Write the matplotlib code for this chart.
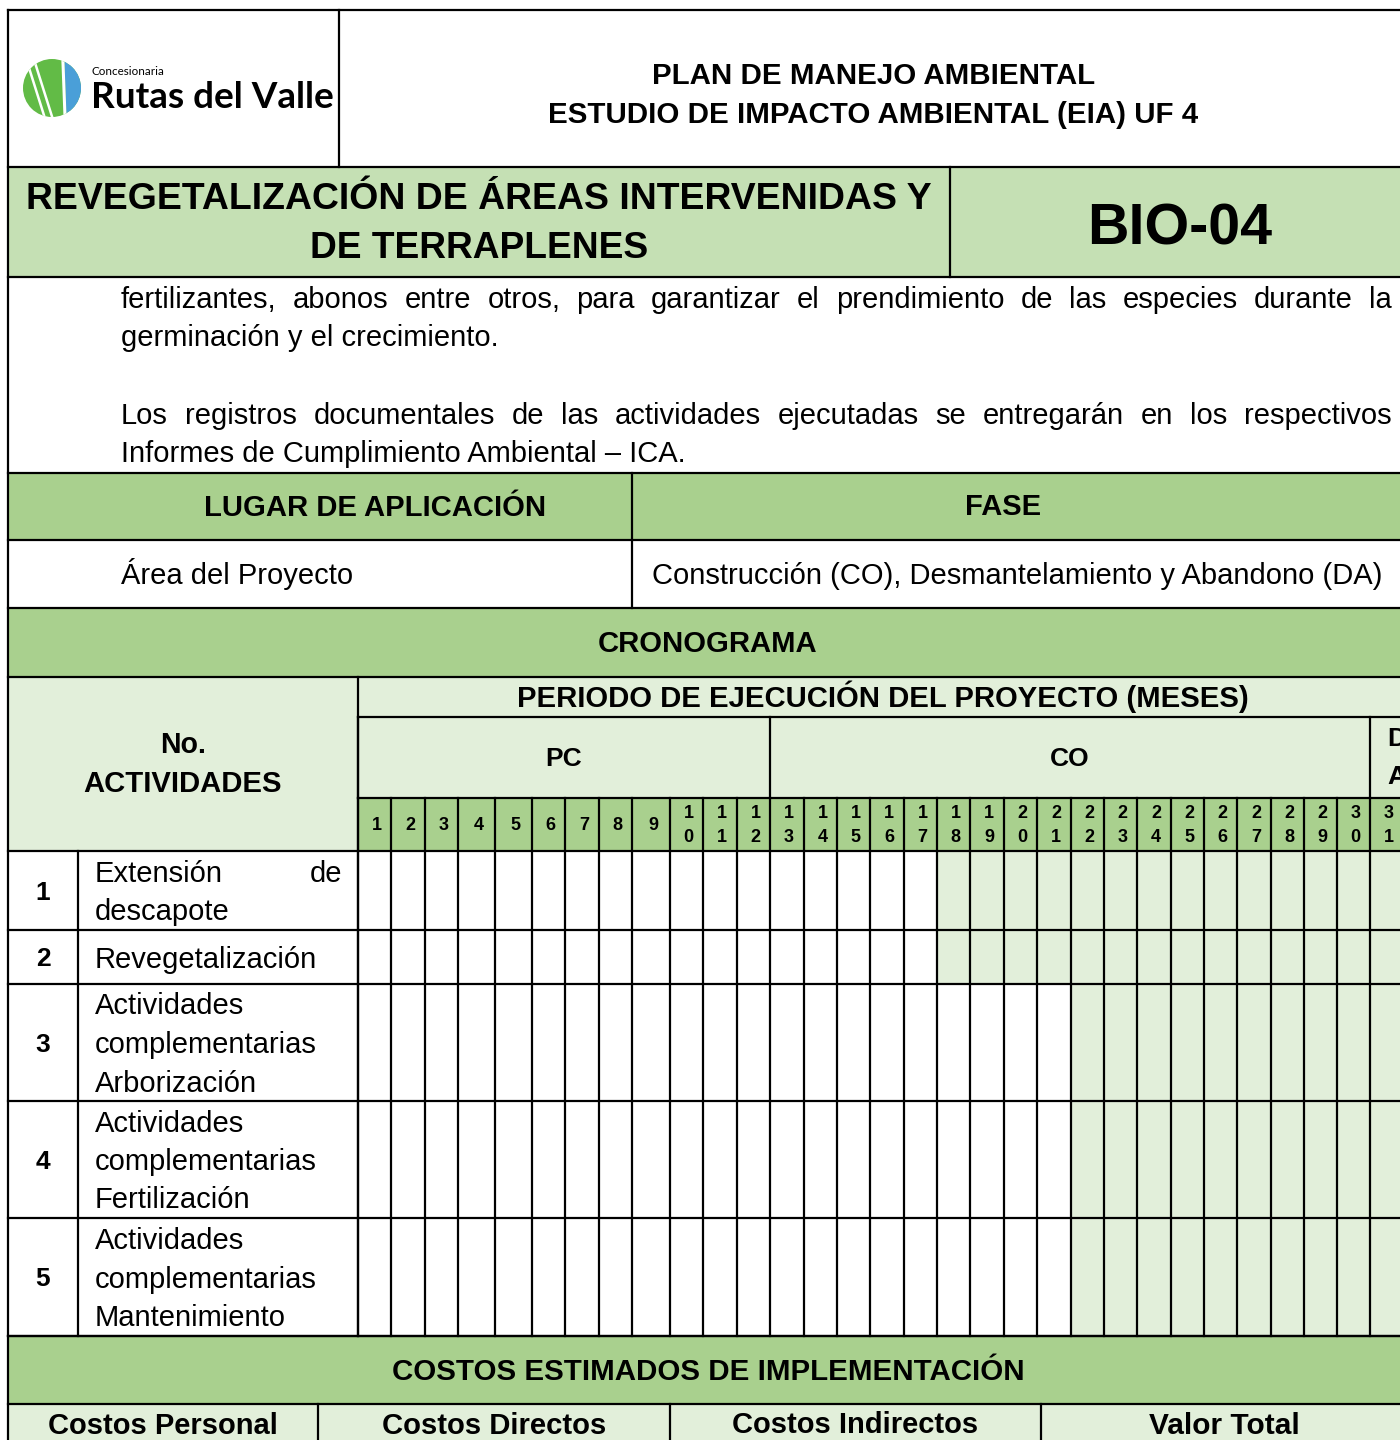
import matplotlib
matplotlib.use("Agg")
import matplotlib.pyplot as plt
from matplotlib.patches import Rectangle, Circle, Polygon

# ---------------- data ----------------
header_lines = ["PLAN DE MANEJO AMBIENTAL", "ESTUDIO DE IMPACTO AMBIENTAL (EIA) UF 4"]
title_lines = ["REVEGETALIZACIÓN DE ÁREAS INTERVENIDAS Y", "DE TERRAPLENES"]
sheet_code = "BIO-04"
body_lines = [
    ("fertilizantes, abonos entre otros, para garantizar el prendimiento de las especies durante la", True),
    ("germinación y el crecimiento.", False),
    ("Los registros documentales de las actividades ejecutadas se entregarán en los respectivos", True),
    ("Informes de Cumplimiento Ambiental – ICA.", False),
]
lugar_header = "LUGAR DE APLICACIÓN"
fase_header = "FASE"
lugar_value = "Área del Proyecto"
fase_value = "Construcción (CO), Desmantelamiento y Abandono (DA)"
crono_title = "CRONOGRAMA"
periodo_title = "PERIODO DE EJECUCIÓN DEL PROYECTO (MESES)"
months = list(range(1, 32))
phases = ["PC", "CO", "DA"]
phase_first_month = [1, 13, 31]
activity_no = [1, 2, 3, 4, 5]
activities = [
    ["Extensión de", "descapote"],
    ["Revegetalización"],
    ["Actividades", "complementarias", "Arborización"],
    ["Actividades", "complementarias", "Fertilización"],
    ["Actividades", "complementarias", "Mantenimiento"],
]
shade_from_month = [18, 18, 22, 22, 22]
costs_title = "COSTOS ESTIMADOS DE IMPLEMENTACIÓN"
cost_headers = ["Costos Personal", "Costos Directos", "Costos Indirectos", "Valor Total"]

# ---------------- layout ----------------
W, H = 1400, 1440
DARK = "#A9D08E"
LIGHT = "#E2EFDA"
TITLEC = "#C5E0B4"
LW = 1.6
FONT = "Liberation Sans"

fig = plt.figure(figsize=(W / 100, H / 100), dpi=100)
ax = fig.add_axes([0, 0, 1, 1])
ax.set_xlim(0, W)
ax.set_ylim(H, 0)
ax.axis("off")
R = fig.canvas.get_renderer()

L, RGT = 8, 1402
col_edges = [358, 391, 425, 458, 495, 532, 565, 599, 632, 670, 703, 737, 770, 804,
             837, 870, 904, 937, 970, 1004, 1037, 1071, 1104, 1137, 1171, 1204, 1237,
             1271, 1304, 1337, 1370, 1404]
row_edges = [851, 930, 984, 1101, 1218, 1336]


def rect(x0, y0, x1, y1, c):
    ax.add_patch(Rectangle((x0, y0), x1 - x0, y1 - y0, facecolor=c, edgecolor="none", zorder=1))


def hline(y, x0, x1):
    ax.plot([x0, x1], [y, y], color="black", lw=LW, solid_capstyle="projecting", zorder=3)


def vline(x, y0, y1):
    ax.plot([x, x], [y0, y1], color="black", lw=LW, solid_capstyle="projecting", zorder=3)


def text(x, y, s, size, bold=False, ha="center", width=None, family=FONT, weight=None):
    w = weight if weight else ("bold" if bold else "normal")
    t = ax.text(x, y, s, fontsize=size, fontweight=w, ha=ha, va="baseline",
                family=family, zorder=4)
    if width:
        bb = t.get_window_extent(R)
        size = size * width / bb.width
        t.set_fontsize(size)
    # y given as visual cap-centre -> baseline
    t.set_y(y + 0.36 * size * 100 / 72)
    return t, size


def justify(x0, x1, y, s, size):
    words = s.split(" ")
    ts = []
    total = 0
    for w_ in words:
        t = ax.text(0, 0, w_, fontsize=size, ha="left", va="baseline", family=FONT, zorder=4)
        bb = t.get_window_extent(R)
        ts.append((t, bb.width))
        total += bb.width
    gap = (x1 - x0 - total) / (len(words) - 1)
    x = x0
    for t, wd in ts:
        t.set_position((x, y + 0.36 * size * 100 / 72))
        x += wd + gap


# ---------------- fills ----------------
rect(L, 167, RGT, 277, TITLEC)
rect(L, 473, RGT, 540, DARK)
rect(L, 608, RGT, 677, DARK)
rect(L, 677, RGT, 851, LIGHT)
rect(358, 798, RGT, 851, DARK)
for i, m0 in enumerate(shade_from_month):
    rect(col_edges[m0 - 1], row_edges[i], RGT, row_edges[i + 1], LIGHT)
rect(L, 1336, RGT, 1404, DARK)
rect(L, 1404, RGT, H, LIGHT)

# ---------------- lines ----------------
for y in [10, 167, 277, 473, 540, 608, 677, 1336, 1404]:
    hline(y, L, RGT)
hline(717, 358, RGT)
hline(798, 358, RGT)
for y in row_edges:
    hline(y, L, RGT)
vline(L, 10, H)
vline(339, 10, 167)
vline(950, 167, 277)
vline(632, 473, 608)
vline(358, 677, 1336)
for p in phase_first_month:
    vline(col_edges[p - 1], 717, 798)
for x in col_edges:
    vline(x, 798, 1336)
vline(78, 851, 1336)
for x in [318, 670, 1041]:
    vline(x, 1404, H)

# ---------------- logo ----------------
cx, cy, r = 52, 88, 29
clip = Circle((cx, cy), r, transform=ax.transData)
green = Circle((cx, cy), r, facecolor="#62BB46", edgecolor="none", zorder=2)
ax.add_patch(green)
blue = Polygon([(64, 50), (100, 50), (100, 130), (67, 130)], closed=True,
               facecolor="#4A9FD8", edgecolor="none", zorder=2)
ax.add_patch(blue)
blue.set_clip_path(clip)
for (xa, ya, xb, yb, lw) in [(62.5, 50, 65.5, 130, 2.2), (24, 52, 48, 128, 1.8), (31, 50, 55, 126, 1.8)]:
    ln, = ax.plot([xa, xb], [ya, yb], color="white", lw=lw, zorder=2.5)
    ln.set_clip_path(clip)
text(91, 71, "Concesionaria", 7, family="Lato", ha="left", width=72)
text(91, 95, "Rutas del Valle", 24, family="Lato", weight="bold", ha="left", width=244)

# ---------------- header texts ----------------
text(874, 73, header_lines[0], 20, bold=True, width=442)
text(873, 112, header_lines[1], 20, bold=True, width=650)
text(479, 196, title_lines[0], 26, bold=True, width=906)
text(479, 245, title_lines[1], 26, bold=True, width=338)
text(1180, 224, sheet_code, 44, bold=True, width=185)

t_body, bsize = text(121, 336, body_lines[1][0], 19, ha="left", width=378)
for (s, just), y in zip(body_lines, [297, 336, 413, 451]):
    if just:
        justify(121, 1392, y, s, bsize)
    elif s != body_lines[1][0]:
        text(121, y, s, bsize, ha="left")

text(375, 505, lugar_header, 19, bold=True, width=341)
text(1003, 505, fase_header, 19, bold=True, width=76)
text(121, 573, lugar_value, bsize, ha="left")
text(652, 573, fase_value, bsize, ha="left")
text(708, 641, crono_title, 19, bold=True, width=219)
text(883, 696, periodo_title, 19, bold=True, width=732)
text(183, 743, "No.", 19, bold=True, width=46)
text(183, 781, "ACTIVIDADES", 19, bold=True, width=198)

# phases
for i, ph in enumerate(phases):
    x0 = col_edges[phase_first_month[i] - 1]
    x1 = col_edges[phase_first_month[i + 1] - 1] if i + 1 < len(phases) else None
    if x1 is not None:
        text((x0 + x1) / 2, 756, ph, 19, bold=True)
    else:
        text(x0 + 17, 737, ph[0], 19, bold=True, ha="left")
        text(x0 + 17, 775, ph[1], 19, bold=True, ha="left")

# months
MS = 13
for i, m in enumerate(months):
    xc = (col_edges[i] + col_edges[i + 1]) / 2 + 2
    s = str(m)
    if len(s) == 1:
        text(xc, 823, s, MS, bold=True)
    else:
        text(xc, 811, s[0], MS, bold=True)
        text(xc, 836, s[1], MS, bold=True)

# activities
for i, (no, lines) in enumerate(zip(activity_no, activities)):
    y0, y1 = row_edges[i], row_edges[i + 1]
    yc = (y0 + y1) / 2
    text(43, yc, str(no), 19, bold=True)
    n = len(lines)
    for k, s in enumerate(lines):
        yl = yc + (k - (n - 1) / 2) * 38.5
        if i == 0 and k == 0:
            parts = s.split(" ")
            text(95, yl, parts[0], bsize, ha="left")
            text(342, yl, parts[1], bsize, ha="right")
        else:
            text(95, yl, s, bsize, ha="left")

# costs
text(708, 1369, costs_title, 19, bold=True, width=630)
for s, xc, w in zip(cost_headers, [163, 494, 855, 1224], [230, 224, 246, 150]):
    text(xc, 1423, s, 20, bold=True, width=w)

fig.savefig("out.png", dpi=100)
